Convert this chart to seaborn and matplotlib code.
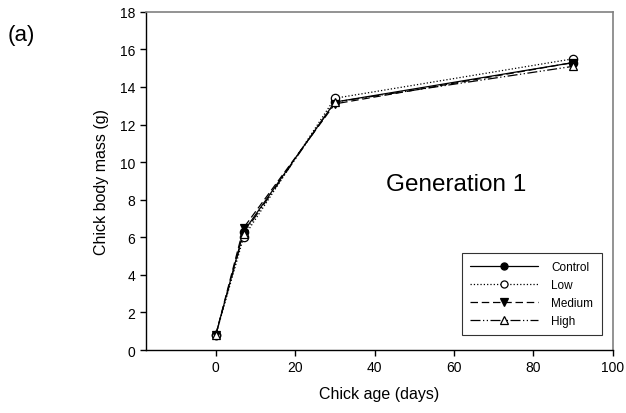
import matplotlib
matplotlib.use("Agg")
import matplotlib.pyplot as plt
import seaborn as sns
import pandas as pd

sns.set_style("ticks")
plt.rcParams['font.family'] = ['Liberation Sans', 'DejaVu Sans']
plt.rcParams['text.color'] = 'black'
plt.rcParams['axes.labelcolor'] = 'black'
plt.rcParams['xtick.color'] = 'black'
plt.rcParams['ytick.color'] = 'black'

# Data
age = [0, 7, 30, 90]
control = [0.8, 6.3, 13.2, 15.3]
low = [0.8, 6.0, 13.4, 15.5]
medium = [0.8, 6.5, 13.1, 15.3]
high = [0.8, 6.2, 13.2, 15.1]

groups = ["Control", "Low", "Medium", "High"]
values = [control, low, medium, high]
markers = ["o", "o", "v", "^"]
faces = ["black", "white", "black", "white"]
styles = ["-", ":", (0, (6, 3)), (0, (8, 2, 1, 2, 1, 2))]

fig = plt.figure(figsize=(6.26, 4.14), dpi=100)
ax = fig.add_axes([0.233, 0.152, 0.746, 0.817])

for g, v, m, fc, ls in zip(groups, values, markers, faces, styles):
    df = pd.DataFrame({"age": age, "mass": v})
    sns.lineplot(data=df, x="age", y="mass", ax=ax, color="black", lw=0.9,
                 linestyle=ls, marker=m, markersize=6, markerfacecolor=fc,
                 markeredgecolor="black", markeredgewidth=0.9, label=g)

ax.set_xlim(-17.6, 100)
ax.set_ylim(0, 18)
ax.set_xticks([0, 20, 40, 60, 80, 100])
ax.set_yticks(range(0, 19, 2))
ax.set_xlabel("Chick age (days)", fontsize=11.5, labelpad=8)
ax.set_ylabel("Chick body mass (g)", fontsize=11.5, labelpad=8)
ax.tick_params(labelsize=10, length=4, width=1, color="black")
for s in ["top", "right"]:
    ax.spines[s].set_color("gray")
    ax.spines[s].set_linewidth(1.2)
for s in ["left", "bottom"]:
    ax.spines[s].set_color("black")
    ax.spines[s].set_linewidth(1)

ax.text(60.5, 8.85, "Generation 1", fontsize=17.5, ha="center", va="center")
fig.text(0.012, 0.9, "(a)", fontsize=16)

leg = ax.legend(loc="lower right", bbox_to_anchor=(0.976, 0.044), fontsize=8.5,
                frameon=True, fancybox=False, edgecolor="black",
                handlelength=5.8, handletextpad=1.1, borderpad=0.7,
                labelspacing=0.5, borderaxespad=0, markerscale=0.85)
leg.get_frame().set_linewidth(0.8)

fig.savefig("out.png", dpi=100)
